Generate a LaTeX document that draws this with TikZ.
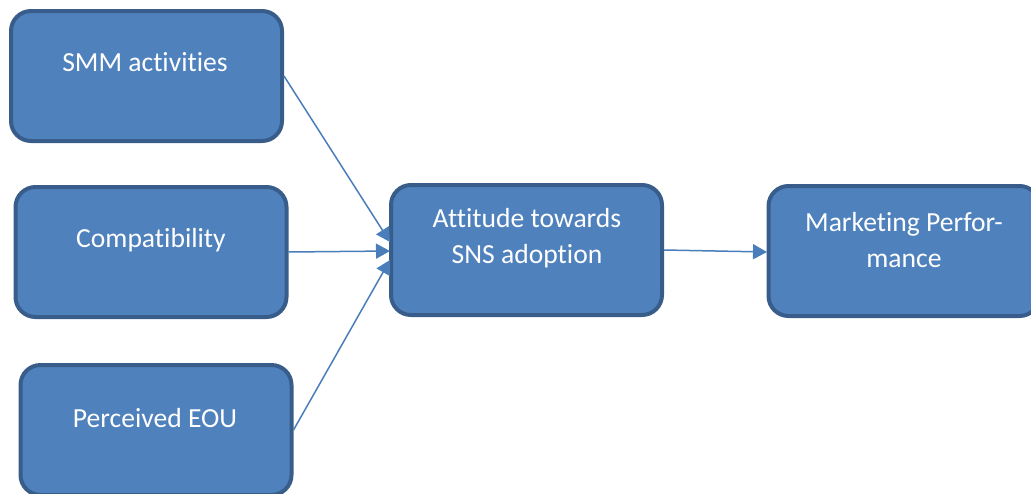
\documentclass[tikz,border=0pt]{standalone}
\usepackage{fontspec}
\setmainfont{Carlito}[Ligatures=NoCommon]
\usetikzlibrary{arrows.meta}
\definecolor{boxfill}{HTML}{4F81BD}
\definecolor{boxline}{HTML}{385D8A}
\definecolor{flowline}{HTML}{4A7EBB}
\begin{document}
\begin{tikzpicture}[x=0.5pt,y=-0.5pt,
    box/.style={rounded corners=10pt,draw=boxline,line width=2pt,fill=boxfill,
        minimum width=135.5pt,minimum height=65pt,inner sep=0pt},
    boxtext/.style={text=white,font=\fontsize{13.8}{18}\selectfont,align=center},
    flow/.style={-{Triangle[length=7pt,width=7.5pt]},draw=flowline,fill=flowline,line width=0.75pt}]
        \clip (0,0) rectangle (1031,493);
        \useasboundingbox (0,0) rectangle (1031,493);
        \node [box] (smm) at (146.5,76) {};
        \node [box] (comp) at (151,252) {};
        \node [box] (eou) at (156,430) {};
        \node [box] (att) at (526.5,250) {};
        \node [box] (mkt) at (904,251) {};
        \node [boxtext] (smmtext) at (145,62) {SMM activities};
        \node [boxtext] (comptext) at (151,240) {Compatibility};
        \node [boxtext] (eoutext) at (155,418) {Perceived EOU};
        \node [boxtext] (atttext) at (527,238) {Attitude towards\\SNS adoption};
        \node [boxtext] (mkttext) at (904,240) {Marketing Perfor-\\mance};
        \coordinate (in1) at (390,242);
        \coordinate (in2) at (390,251);
        \coordinate (in3) at (390,260);
        \coordinate (in4) at (767,252);
        \path (smm.east) edge [flow] (in1);
        \path (comp.east) edge [flow] (in2);
        \path (eou.east) edge [flow] (in3);
        \path (att.east) edge [flow] (in4);
    \end{tikzpicture}
\end{document}
